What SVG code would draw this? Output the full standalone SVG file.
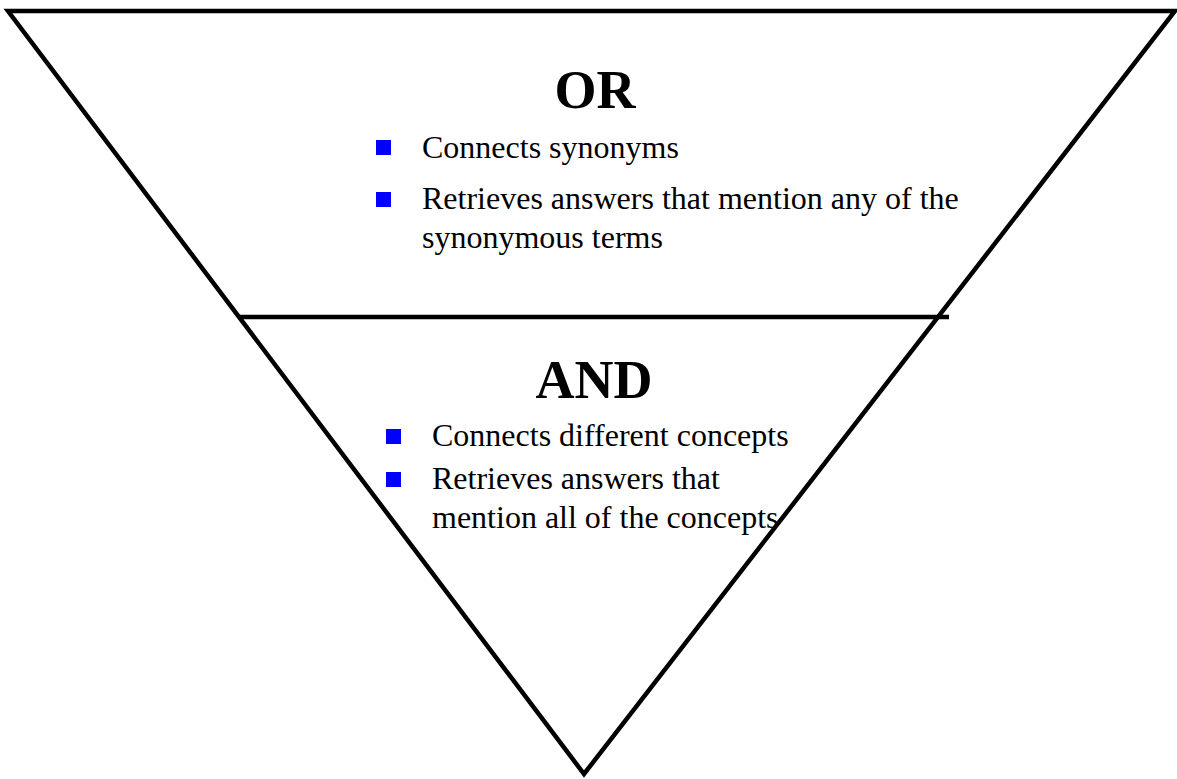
<svg xmlns="http://www.w3.org/2000/svg" width="1177" height="779" viewBox="0 0 1177 779">
<style>
.ln{stroke:#000;stroke-width:4.5;fill:none;stroke-linejoin:miter}
.h{font-family:"Liberation Serif",serif;font-weight:bold;font-size:54px;fill:#000;text-anchor:middle}
.t{font-family:"Liberation Serif",serif;font-size:32px;fill:#000}
.b{fill:#0000ff}
</style>
<rect width="1177" height="779" fill="#fff"/>
<g id="connectors">
<path class="ln" d="M8,11 L1175,11 L584,774 Z"/>
<line class="ln" x1="240" y1="317" x2="949" y2="317"/>
</g>
<g id="or">
<text class="h" x="595" y="108">OR</text>
<rect class="b" x="376" y="140" width="15" height="15"/>
<text class="t" x="422" y="158">Connects synonyms</text>
<rect class="b" x="376" y="192" width="15" height="15"/>
<text class="t" x="422" y="209">Retrieves answers that mention any of the</text>
<text class="t" x="422" y="248">synonymous terms</text>
</g>
<g id="and">
<text class="h" x="594" y="398">AND</text>
<rect class="b" x="386" y="429" width="15" height="15"/>
<text class="t" x="432" y="446">Connects different concepts</text>
<rect class="b" x="386" y="472" width="15" height="15"/>
<text class="t" x="432" y="489">Retrieves answers that</text>
<text class="t" x="432" y="528">mention all of the concepts</text>
</g>
</svg>
